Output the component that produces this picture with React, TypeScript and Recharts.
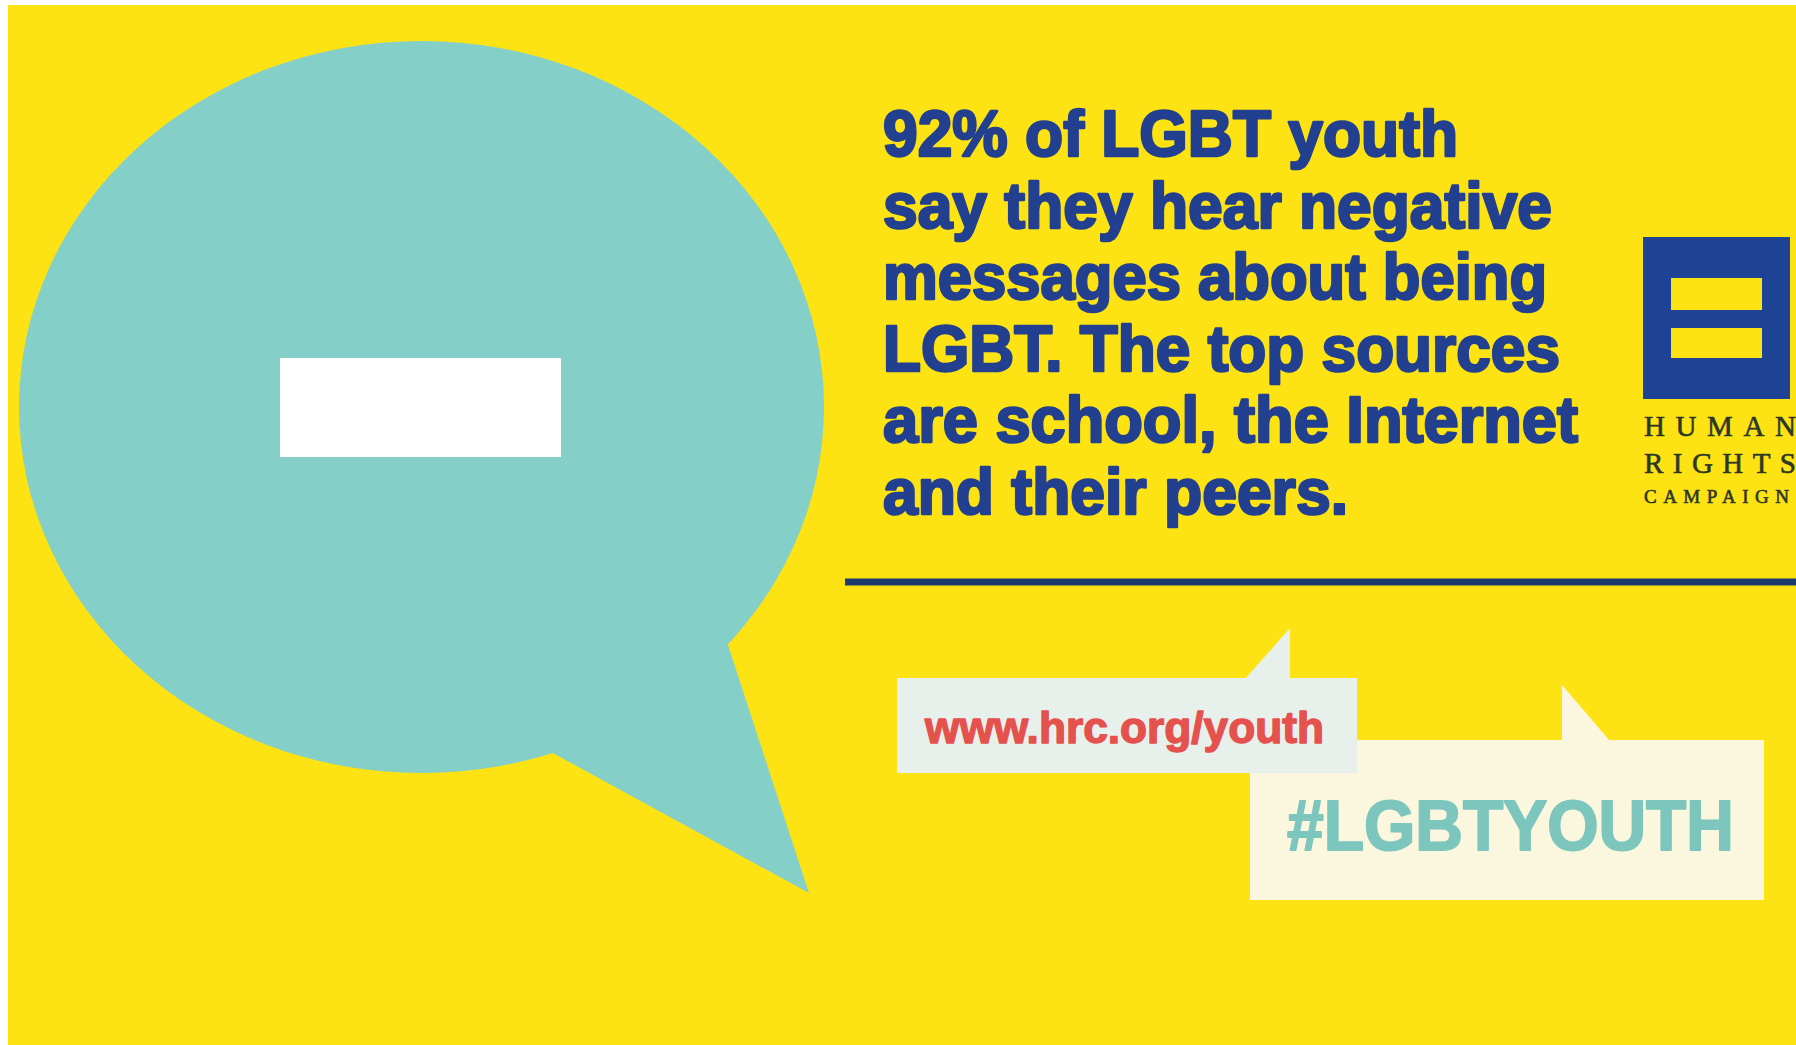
import React from 'react';
import { ComposedChart, XAxis, YAxis, ReferenceArea, ReferenceLine, ReferenceDot } from 'recharts';

if (typeof document !== 'undefined') {
  document.documentElement.style.overflow = 'hidden';
}

// ---- data ----
const STAT = [92];
const HEADLINE_LINES = [
  `${STAT[0]}% of LGBT youth`,
  'say they hear negative',
  'messages about being',
  'LGBT. The top sources',
  'are school, the Internet',
  'and their peers.',
];
const LOGO_WORDS = ['HUMAN', 'RIGHTS', 'CAMPAIGN'];
const LINK_TEXT = ['www.hrc.org/youth'];
const HASHTAG = ['#LGBTYOUTH'];

// ---- layout (page coordinates, mapped 1:1 by the hidden axes) ----
const X0 = 8;
const Y0 = 5;
const W = 1788;
const H = 1040;

const HEAD_X = 883;
const HEAD_BASE = [156, 228, 299, 371, 442, 514];
const HEAD_W = [575, 669, 664, 677, 695, 465];

const LOGO_X = 1644;
const LOGO_BASE = [436, 473, 503];
const LOGO_SIZE = [29, 29, 19];
const LOGO_W = [152, 152, 145];

const C = {
  yellow: '#FDE313',
  teal: '#84CFC7',
  blue: '#22408F',
  logo: '#1E4394',
  logoText: '#2D3728',
  rule: '#1D3B6E',
  bubble1: '#E8F0EC',
  bubble2: '#FBF7DF',
  red: '#E5514C',
  hash: '#7CC6BE',
};

type Pt = [number, number];

const bubbleShape = (box: [number, number, number, number], tail: Pt[], fill: string, ellipse: boolean) =>
  (p: any) => {
    const [bx1, by1, bx2, by2] = box;
    const sx = p.width / (bx2 - bx1);
    const sy = p.height / (by2 - by1);
    const map = (pt: Pt) => `${p.x + (pt[0] - bx1) * sx},${p.y + (pt[1] - by1) * sy}`;
    return (
      <g>
        {ellipse ? (
          <ellipse cx={p.x + p.width / 2} cy={p.y + p.height / 2} rx={p.width / 2} ry={p.height / 2} fill={fill} />
        ) : (
          <rect x={p.x} y={p.y} width={p.width} height={p.height} fill={fill} />
        )}
        <polygon points={tail.map(map).join(' ')} fill={fill} />
      </g>
    );
  };

const textShape = (txt: string, opts: any) => (p: any) => (
  <text
    x={p.cx}
    y={p.cy}
    fontFamily={opts.family}
    fontSize={opts.size}
    fontWeight={opts.weight}
    fill={opts.fill}
    stroke={opts.stroke ? opts.fill : 'none'}
    strokeWidth={opts.stroke || 0}
    strokeLinejoin="round"
    textLength={opts.len}
    lengthAdjust={opts.adjust || 'spacingAndGlyphs'}
  >
    {txt}
  </text>
);

const TEAL_BOX: [number, number, number, number] = [19, 41, 824, 773];
const TEAL_TAIL: Pt[] = [[551, 752], [809, 893], [728, 645]];
const B1_BOX: [number, number, number, number] = [897, 678, 1357, 773];
const B1_TAIL: Pt[] = [[1245, 679], [1290, 628], [1290, 679]];
const B2_BOX: [number, number, number, number] = [1250, 740, 1764, 900];
const B2_TAIL: Pt[] = [[1562, 741], [1562, 685], [1610, 741]];

export default function App() {
  return (
    <div style={{ position: 'absolute', left: X0, top: Y0, width: W, height: H + 10, background: C.yellow }}>
      <ComposedChart
        width={W}
        height={H}
        data={STAT.map((v) => ({ value: v }))}
        margin={{ top: 0, right: 0, bottom: 0, left: 0 }}
      >
        <XAxis hide type="number" dataKey="value" domain={[X0, X0 + W]} allowDataOverflow />
        <YAxis hide type="number" domain={[Y0, Y0 + H]} reversed allowDataOverflow />

        <ReferenceArea
          x1={TEAL_BOX[0]}
          x2={TEAL_BOX[2]}
          y1={TEAL_BOX[1]}
          y2={TEAL_BOX[3]}
          fillOpacity={1}
          shape={bubbleShape(TEAL_BOX, TEAL_TAIL, C.teal, true)}
        />
        <ReferenceArea x1={280} x2={561} y1={358} y2={457} fill="#FFFFFF" fillOpacity={1} stroke="none" />

        {HEADLINE_LINES.map((t, i) => (
          <ReferenceDot
            key={'h' + i}
            x={HEAD_X}
            y={HEAD_BASE[i]}
            r={0}
            shape={textShape(t, {
              family: "'Liberation Sans', Arial, sans-serif",
              size: 65,
              weight: 700,
              fill: C.blue,
              stroke: 2.6,
              len: HEAD_W[i],
            })}
          />
        ))}

        <ReferenceArea x1={1643} x2={1790} y1={237} y2={399} fill={C.logo} fillOpacity={1} stroke="none" />
        <ReferenceArea x1={1671} x2={1762} y1={278} y2={310} fill={C.yellow} fillOpacity={1} stroke="none" />
        <ReferenceArea x1={1671} x2={1762} y1={328} y2={358} fill={C.yellow} fillOpacity={1} stroke="none" />
        {LOGO_WORDS.map((t, i) => (
          <ReferenceDot
            key={'l' + i}
            x={LOGO_X}
            y={LOGO_BASE[i]}
            r={0}
            shape={textShape(t, {
              family: "'Liberation Serif', 'Times New Roman', serif",
              size: LOGO_SIZE[i],
              weight: 400,
              fill: C.logoText,
              stroke: 0.6,
              len: LOGO_W[i],
              adjust: 'spacing',
            })}
          />
        ))}

        <ReferenceLine
          segment={[
            { x: 845, y: 582 },
            { x: X0 + W, y: 582 },
          ]}
          stroke={C.rule}
          strokeWidth={7}
        />

        <ReferenceArea
          x1={B2_BOX[0]}
          x2={B2_BOX[2]}
          y1={B2_BOX[1]}
          y2={B2_BOX[3]}
          fillOpacity={1}
          shape={bubbleShape(B2_BOX, B2_TAIL, C.bubble2, false)}
        />
        <ReferenceArea
          x1={B1_BOX[0]}
          x2={B1_BOX[2]}
          y1={B1_BOX[1]}
          y2={B1_BOX[3]}
          fillOpacity={1}
          shape={bubbleShape(B1_BOX, B1_TAIL, C.bubble1, false)}
        />
        <ReferenceDot
          x={925}
          y={743}
          r={0}
          shape={textShape(LINK_TEXT[0], {
            family: "'Liberation Sans', Arial, sans-serif",
            size: 44,
            weight: 700,
            fill: C.red,
            stroke: 1.4,
            len: 399,
          })}
        />
        <ReferenceDot
          x={1287}
          y={850}
          r={0}
          shape={textShape(HASHTAG[0], {
            family: "'Liberation Sans', Arial, sans-serif",
            size: 70,
            weight: 700,
            fill: C.hash,
            stroke: 2,
            len: 447,
          })}
        />
      </ComposedChart>
    </div>
  );
}
